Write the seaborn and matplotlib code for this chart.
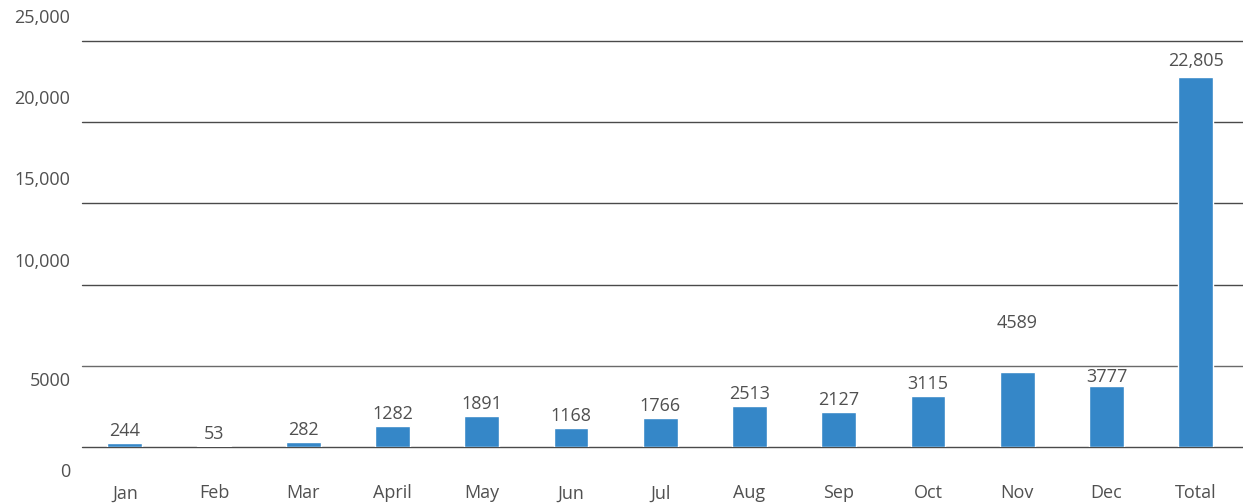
import matplotlib
matplotlib.use("Agg")
import matplotlib.pyplot as plt
import matplotlib.transforms as mtransforms
import seaborn as sns
import pandas as pd

months = ["Jan", "Feb", "Mar", "April", "May", "Jun", "Jul", "Aug", "Sep", "Oct", "Nov", "Dec", "Total"]
values = [244, 53, 282, 1282, 1891, 1168, 1766, 2513, 2127, 3115, 4589, 3777, 22805]
value_labels = ["244", "53", "282", "1282", "1891", "1168", "1766", "2513", "2127", "3115", "4589", "3777", "22,805"]
yticks = [0, 5000, 10000, 15000, 20000, 25000]
ytick_labels = ["0", "5000", "10,000", "15,000", "20,000", "25,000"]

sns.set_theme(style="white")
plt.rcParams["font.family"] = ["Open Sans", "DejaVu Sans"]

TEXT = "#505050"
BAR = "#3587c8"
GRID = "#4a4a4a"
FW = "normal"
FS = 13

fig = plt.figure(figsize=(12.43, 5.04), dpi=100)
ax = fig.add_axes([82 / 1243, 57 / 504, 1 - 82 / 1243, 406 / 504])

df = pd.DataFrame({"month": months, "value": values})
sns.barplot(data=df, x="month", y="value", color=BAR, saturation=1, width=0.39, ax=ax, zorder=3)

ax.set_ylim(0, 25000)
ax.set_xlim(-0.48, 12.53)
for s in ax.spines.values():
    s.set_visible(False)
for y in yticks:
    ax.axhline(y, color=GRID if y != 5000 else "#6a6a6a", lw=1.0, zorder=1, clip_on=False)

ax.set_yticks([])
ax.set_xlabel("")
ax.set_ylabel("")
ax.tick_params(axis="x", length=0, pad=27, labelsize=FS, labelcolor=TEXT)
for t in ax.get_xticklabels():
    t.set_fontweight(FW)

# y labels offset relative to lines
offsets = {0: -25, 5000: -15, 10000: 23, 15000: 23, 20000: 23, 25000: 23}
for y, lab in zip(yticks, ytick_labels):
    tr = mtransforms.offset_copy(ax.get_yaxis_transform(), fig=fig, x=0, y=offsets[y] * 0.72, units="points")
    ax.text(-0.010, y, lab, transform=tr, ha="right", va="center", fontsize=FS,
            color=TEXT, fontweight=FW)

label_off = [12] * len(values)
label_off[10] = 49
label_off[11] = 9
label_off[12] = 16
for i, (v, lab) in enumerate(zip(values, value_labels)):
    ax.annotate(lab, (i, v), xytext=(0, label_off[i] * 0.72), textcoords="offset points",
                ha="center", va="center", fontsize=FS, color=TEXT, fontweight=FW, zorder=5)

fig.savefig("out.png", dpi=100)
